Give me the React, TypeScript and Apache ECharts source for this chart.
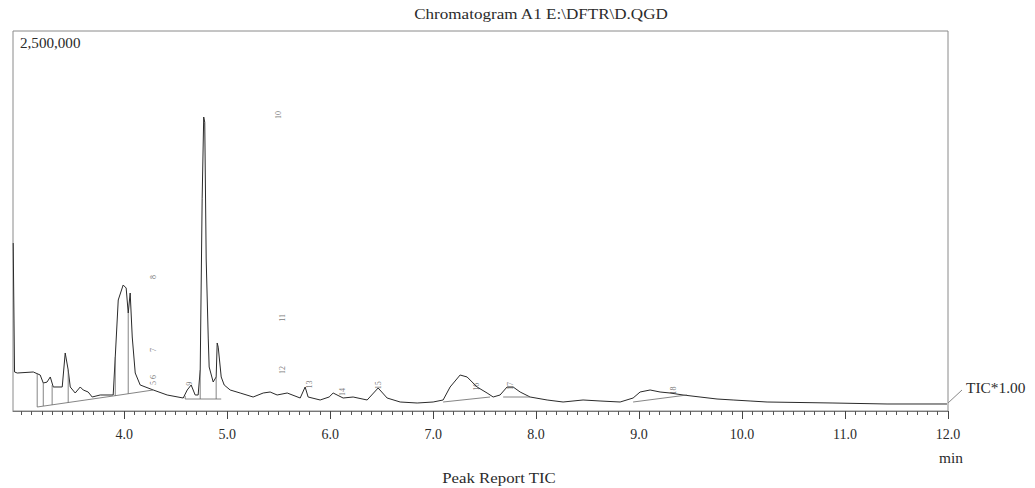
import React, { useEffect, useRef } from "react";
import * as echarts from "echarts";

// Retention time (min) and TIC intensity of the chromatogram trace
const traceTimes = [
  2.922, 2.935, 2.961, 3.117, 3.184, 3.214, 3.25, 3.282, 3.311, 3.398, 3.427, 3.456, 3.476, 3.524, 3.573,
  3.602, 3.65, 3.689, 3.767, 3.893, 3.913, 3.942, 3.99, 4.019, 4.039, 4.058, 4.078, 4.107, 4.155, 4.282,
  4.417, 4.573, 4.612, 4.65, 4.689, 4.718, 4.738, 4.757, 4.772, 4.782, 4.796, 4.816, 4.825, 4.864, 4.893,
  4.903, 4.913, 4.942, 4.971, 5.029, 5.126, 5.252, 5.35, 5.417, 5.485, 5.583, 5.709, 5.757, 5.786, 5.903,
  5.99, 6.029, 6.126, 6.223, 6.359, 6.466, 6.553, 6.68, 6.845, 7.0, 7.097, 7.165, 7.262, 7.33, 7.427,
  7.524, 7.583, 7.65, 7.718, 7.777, 7.845, 7.942, 8.107, 8.262, 8.456, 8.621, 8.816, 8.942, 9.01, 9.107,
  9.204, 9.301, 9.427, 9.592, 9.757, 9.913, 10.078, 10.243, 10.883, 11.408, 11.99,
];
const traceValues = [
  1105000, 256600, 250000, 256600, 236800, 184200, 190000, 223700, 157900, 157900, 381600, 269700, 157900, 118400, 157900,
  138200, 125000, 92100, 105300, 105300, 355300, 730300, 829000, 809200, 644700, 776300, 486800, 250000, 171100, 138200,
  105300, 85500, 138200, 171100, 105300, 105300, 269700, 1400000, 1934200, 1900000, 1000000, 480000, 289500, 190800, 223700,
  447400, 420000, 223700, 171100, 138200, 118400, 92100, 118400, 125000, 105300, 118400, 85500, 157900, 92100, 72400,
  92100, 118400, 85500, 92100, 72400, 151300, 85500, 59200, 52600, 59200, 72400, 157900, 236800, 223700, 157900,
  118400, 92100, 105300, 157900, 157900, 125000, 92100, 72400, 59200, 72400, 65800, 59200, 85500, 125000, 138200,
  125000, 118400, 105300, 92100, 78900, 72400, 65800, 59200, 52600, 46100, 46100,
];

// Integration baselines and drop lines (null separates segments)
const baseTimes = [
  3.155, 3.893, null, 3.893, 4.282, null, 4.592, 4.942, null, 7.097, 7.553, null, 7.68, 7.942, null, 8.942, 9.466, null,
  3.155, 3.155, null, 3.214, 3.214, null, 3.3, 3.3, null, 3.456, 3.456, null, 3.913, 3.913, null, 4.039, 4.039, null,
  4.592, 4.592, null, 4.738, 4.738, null, 4.893, 4.893,
];
const baseValues = [
  26300, 98700, null, 98700, 138200, null, 78900, 78900, null, 59200, 92100, null, 92100, 92100, null, 59200, 105300, null,
  250000, 26300, null, 184200, 32900, null, 170000, 40000, null, 269700, 55000, null, 355300, 98700, null, 644700, 113500, null,
  100000, 78900, null, 269700, 78900, null, 223700, 78900,
];

// Peak number labels
const peakLabelTimes = [4.28, 4.28, 4.28, 4.28, 5.5, 5.54, 5.54, 4.63, 5.8, 6.12, 6.47, 7.42, 7.75, 9.33];
const peakLabelValues = [881600, 401300, 223700, 184200, 1947000, 612000, 270000, 180000, 175000, 125000, 170000, 160000, 165000, 135000];
const peakLabelTexts = ["8", "7", "6", "5", "10", "11", "12", "9", "13", "14", "15", "16", "17", "18"];

// Axis settings
const xMin = 2.92;
const xMax = 12.0;
const yMax = 2500000;
const majorTicks = [4, 5, 6, 7, 8, 9, 10, 11, 12];
const yTopLabel = "2,500,000";
const titleText = "Chromatogram A1 E:\\DFTR\\D.QGD";
const footerText = "Peak Report TIC";
const unitText = "min";
const traceName = "TIC*1.00";

const FONT = '"Liberation Serif", "DejaVu Serif", serif';

export default function App() {
  const ref = useRef<HTMLDivElement>(null);
  useEffect(() => {
    if (!ref.current) return;
    const chart = echarts.init(ref.current, undefined, { renderer: "svg" });
    const minorTicks: number[] = [];
    for (let i = 30; i <= 120; i++) minorTicks.push(i / 10);
    const trace = traceTimes.map((t, i) => [t, traceValues[i]]);
    const base = baseTimes.map((t, i) => (t === null ? [null, null] : [t, baseValues[i]]));
    const labels = peakLabelTimes.map((t, i) => ({ value: [t, peakLabelValues[i]], label: { formatter: peakLabelTexts[i] } }));
    const txt = (text: string, x: number, y: number, align: string, size: number, sx: number) => ({
      type: "text",
      x,
      y,
      scaleX: sx,
      silent: true,
      style: {
        text,
        fontFamily: FONT,
        fontSize: size,
        fill: "#2b2b2b",
        align,
        verticalAlign: "middle",
        textAlign: align,
        textVerticalAlign: "middle",
      },
    });
    chart.setOption({
      animation: false,
      backgroundColor: "#ffffff",
      grid: { left: 13, right: 87, top: 31, bottom: 77, show: true, borderColor: "#8a8a8a", borderWidth: 1 },
      xAxis: [
        {
          type: "value",
          min: xMin,
          max: xMax,
          axisLine: { show: true, lineStyle: { color: "#777", width: 1 } },
          axisTick: { show: true, customValues: minorTicks, length: 4, lineStyle: { color: "#555" } },
          axisLabel: { show: false },
          splitLine: { show: false },
        },
        {
          type: "value",
          min: xMin,
          max: xMax,
          position: "bottom",
          axisLine: { show: false },
          axisTick: { show: true, customValues: majorTicks, length: 8, lineStyle: { color: "#444" } },
          axisLabel: {
            show: true,
            customValues: majorTicks,
            formatter: (v: number) => v.toFixed(1),
            fontFamily: FONT,
            fontSize: 14,
            color: "#2b2b2b",
            margin: 16,
          },
          splitLine: { show: false },
        },
      ],
      yAxis: { type: "value", min: 0, max: yMax, show: false, splitLine: { show: false } },
      series: [
        {
          type: "line",
          name: traceName,
          data: trace,
          symbol: "none",
          lineStyle: { color: "#2a2a2a", width: 1 },
          silent: true,
        },
        {
          type: "line",
          name: "baseline",
          data: base,
          symbol: "none",
          connectNulls: false,
          lineStyle: { color: "#666", width: 0.8 },
          silent: true,
        },
        {
          type: "scatter",
          data: labels,
          symbolSize: 0,
          silent: true,
          label: { show: true, position: "inside", rotate: 90, fontSize: 8, color: "#555", fontFamily: FONT },
        },
      ],
      graphic: [
        txt(titleText, 541, 14, "center", 14, 1.22),
        txt(yTopLabel, 20, 43, "left", 14, 1.08),
        txt(unitText, 951, 458, "center", 14, 1.1),
        txt(footerText, 499, 478, "center", 14, 1.2),
        txt(traceName, 966, 388, "left", 14, 1.1),
        {
          type: "line",
          silent: true,
          shape: { x1: 948, y1: 403, x2: 962, y2: 390 },
          style: { stroke: "#888", lineWidth: 1 },
        },
      ],
    });
    return () => chart.dispose();
  }, []);
  return <div ref={ref} style={{ position: "absolute", left: 0, top: 0, width: 1035, height: 488 }} />;
}
